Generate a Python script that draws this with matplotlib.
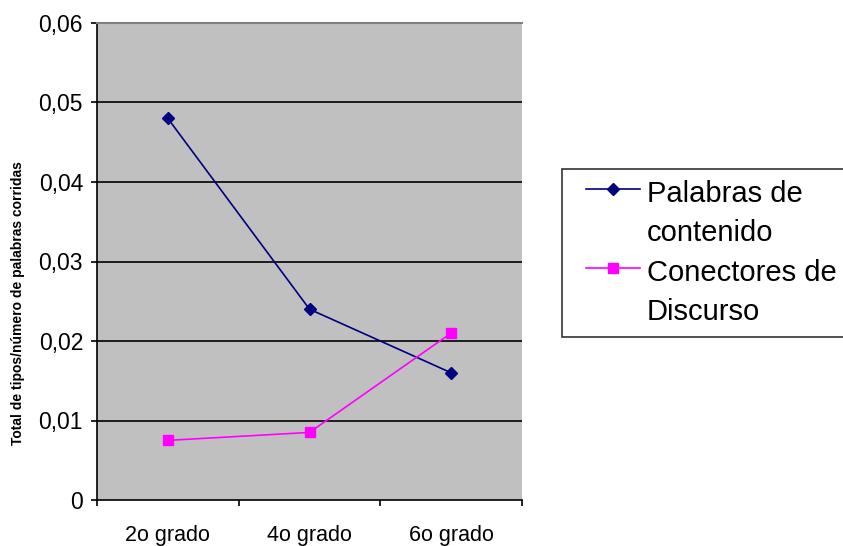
import numpy as np
import matplotlib.pyplot as plt
from matplotlib.ticker import FixedLocator, FuncFormatter
from matplotlib.legend_handler import HandlerLine2D

# datos
grados = ["2o grado", "4o grado", "6o grado"]
palabras_contenido = [0.048, 0.024, 0.016]
conectores_discurso = [0.0075, 0.0085, 0.021]
ticks_y = [0, 0.01, 0.02, 0.03, 0.04, 0.05, 0.06]

plt.rcParams['font.family'] = ['Liberation Sans', 'DejaVu Sans']


class HandlerArriba(HandlerLine2D):
    # la linea del legend va a la altura de la primera linea del texto,
    # y solo ocupa la parte derecha de la caja del handle
    def create_artists(self, legend, orig_handle, xdescent, ydescent,
                       width, height, fontsize, trans):
        arts = super().create_artists(legend, orig_handle, xdescent, ydescent,
                                      width, height, fontsize, trans)
        x0 = 0.2 * width
        for a in arts:
            xd = np.asarray(a.get_xdata(), dtype=float)
            yd = np.asarray(a.get_ydata(), dtype=float)
            n = len(xd)
            if n == 1:
                nx = np.array([(x0 + width) / 2])
            else:
                nx = np.linspace(x0, width, n)
            ny = np.full(n, yd.mean() + 0.88 * fontsize)
            a.set_data(nx, ny)
        return arts


fig = plt.figure(figsize=(8.43, 5.46), dpi=100)
ax = fig.add_axes([97 / 843, 1 - 500 / 546, 425 / 843, 477 / 546])
ax.set_facecolor("#C0C0C0")

x = list(range(len(grados)))
l1, = ax.plot(x, palabras_contenido, color="#000080", marker="D", markersize=6,
              linewidth=1.2, label="Palabras de\ncontenido", zorder=3)
l2, = ax.plot(x, conectores_discurso, color="#FF00FF", marker="s", markersize=7,
              linewidth=1.2, label="Conectores de\nDiscurso", zorder=3)

ax.set_xlim(-0.5, 2.5)
ax.set_ylim(0, 0.06)
ax.set_yticks(ticks_y)
ax.yaxis.set_major_formatter(FuncFormatter(
    lambda v, p: "0" if v == 0 else f"{v:.2f}".replace(".", ",")))
for t in ticks_y[1:-1]:
    ax.axhline(t, color="black", linewidth=1.2, zorder=1)

ax.xaxis.set_major_locator(FixedLocator([-0.5, 0.5, 1.5, 2.5]))
ax.xaxis.set_major_formatter(FuncFormatter(lambda v, p: ""))
ax.xaxis.set_minor_locator(FixedLocator(x))
ax.set_xticklabels(grados, minor=True)
ax.tick_params(axis="x", which="minor", length=0, labelsize=15.5, pad=18)
ax.tick_params(axis="x", which="major", length=4, direction="out", width=1.2)
ax.tick_params(axis="y", labelsize=16.5, length=4, direction="out", width=1.2, pad=6)

ax.spines["right"].set_visible(False)
ax.spines["top"].set_color("#808080")
ax.spines["top"].set_linewidth(1.5)
ax.spines["left"].set_color("black")
ax.spines["left"].set_linewidth(1.2)
ax.spines["bottom"].set_color("black")
ax.spines["bottom"].set_linewidth(1.2)

fig.text(18 / 843, 1 - 303 / 546, "Total de tipos/número de palabras corridas",
         rotation=90, ha="center", va="center", fontsize=10, fontweight="bold")

leg = fig.legend(handles=[l1, l2], loc="upper left",
                 bbox_to_anchor=(562 / 843, 1 - 169 / 546),
                 fontsize=21, frameon=True, fancybox=False, edgecolor="black",
                 handlelength=2.28, borderpad=0.38, labelspacing=0.42,
                 handletextpad=0.25, borderaxespad=0,
                 handler_map={l1: HandlerArriba(), l2: HandlerArriba()})
for t in leg.get_texts():
    t.set_linespacing(1.5)
leg.get_frame().set_linewidth(1.2)

fig.savefig("out.png", dpi=100)
